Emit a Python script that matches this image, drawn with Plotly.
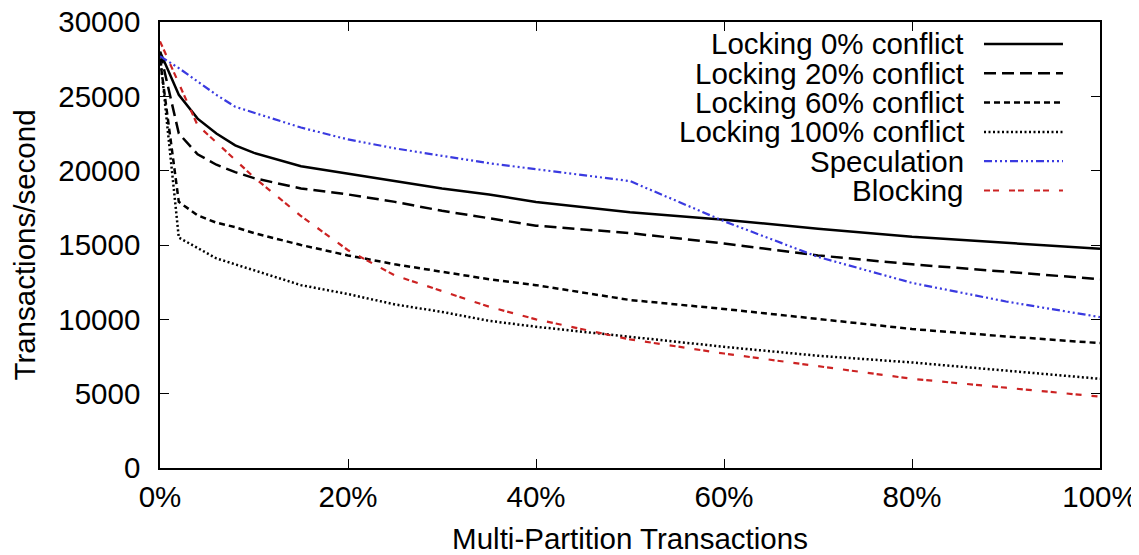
import plotly.graph_objects as go

# ---- data ----
x_pct = [0, 2, 4, 6, 8, 10, 15, 20, 25, 30, 35, 40, 50, 60, 70, 80, 90, 100]

locking_0 = [28000, 25100, 23500, 22500, 21700, 21200, 20300, 19800, 19300, 18800, 18400, 17900,
             17200, 16700, 16100, 15550, 15150, 14750]
locking_20 = [28000, 22500, 21100, 20400, 19900, 19500, 18800, 18400, 17900, 17300, 16800, 16300,
              15800, 15100, 14300, 13700, 13200, 12700]
locking_60 = [27500, 17900, 17000, 16500, 16200, 15800, 15000, 14300, 13700, 13200, 12700, 12300,
              11300, 10700, 10000, 9350, 8850, 8400]
locking_100 = [27800, 15500, 14800, 14100, 13700, 13300, 12300, 11700, 11000, 10500, 9900, 9500,
               8800, 8150, 7550, 7100, 6550, 6000]
speculation = [27700, 26900, 26000, 25100, 24300, 23900, 22900, 22100, 21500, 21000, 20500, 20100,
               19300, 16600, 14200, 12450, 11200, 10150]
blocking = [28700, 25900, 23050, 21900, 20700, 19550, 16950, 14650, 12950, 11900, 10850, 10000,
            8650, 7700, 6850, 6000, 5400, 4800]

series_names = ["Locking 0% conflict", "Locking 20% conflict", "Locking 60% conflict",
                "Locking 100% conflict", "Speculation", "Blocking"]
series_values = [locking_0, locking_20, locking_60, locking_100, speculation, blocking]

x_tick_vals = [0, 20, 40, 60, 80, 100]
x_tick_text = ["0%", "20%", "40%", "60%", "80%", "100%"]
y_tick_vals = [0, 5000, 10000, 15000, 20000, 25000, 30000]
y_tick_text = ["0", "5000", "10000", "15000", "20000", "25000", "30000"]

# ---- styles ----
colors = ["#000000", "#000000", "#000000", "#000000", "#3a3ae0", "#cc2222"]
dashes = ["solid", "12px,6px", "6px,4px", "2px,2.5px",
          "8px,3px,2px,3px,2px,3px,2px,3px", "6px,3px,6px,10px"]
widths = [2.5, 2.5, 2.5, 2.5, 2.2, 2.2]

FONT = "Liberation Sans, Arial, Helvetica, sans-serif"
FS = 29.5

fig = go.Figure()
for name, vals, c, d, w in zip(series_names, series_values, colors, dashes, widths):
    fig.add_trace(go.Scatter(x=x_pct, y=vals, mode="lines", name=name,
                             line=dict(color=c, dash=d, width=w), showlegend=False))

# manual gnuplot-style legend: right-aligned text, sample line to the right
y0 = 0.9507
dy = 29.3 / 446
for i, (name, c, d, w) in enumerate(zip(series_names, colors, dashes, widths)):
    yy = y0 - i * dy
    fig.add_annotation(x=0.8574, y=yy, xref="paper", yref="paper", text=name,
                       showarrow=False, xanchor="right", yanchor="middle",
                       font=dict(family=FONT, size=FS, color="black"))
    fig.add_shape(type="line", xref="paper", yref="paper", x0=0.8766, x1=0.9606,
                  y0=yy, y1=yy, line=dict(color=c, dash=d, width=w))

axis_common = dict(showgrid=False, zeroline=False, showline=True, linecolor="black",
                   linewidth=1.5, mirror="allticks", ticks="inside", ticklen=9,
                   tickwidth=1.2, tickcolor="black", ticklabeloverflow="allow",
                   tickfont=dict(family=FONT, size=FS, color="black"))

fig.update_xaxes(range=[0, 100], tickmode="array", tickvals=x_tick_vals, ticktext=x_tick_text,
                 title=dict(text="Multi-Partition Transactions", standoff=20,
                            font=dict(family=FONT, size=FS, color="black")),
                 ticklabelstandoff=2, **axis_common)
fig.update_yaxes(range=[0, 30000], tickmode="array", tickvals=y_tick_vals, ticktext=y_tick_text,
                 title=dict(text="Transactions/second", standoff=14,
                            font=dict(family=FONT, size=FS, color="black")),
                 ticklabelstandoff=12, **axis_common)

# page body has an 8px margin: size/margins compensate so the plot area lands at
# x 160..1100, y 22..468 in the window
fig.update_layout(width=1131, height=547, plot_bgcolor="white", paper_bgcolor="white",
                  margin=dict(l=152, r=39, t=14, b=87, autoexpand=False),
                  font=dict(family=FONT, size=FS, color="black"))

fig.write_html("out.html")
